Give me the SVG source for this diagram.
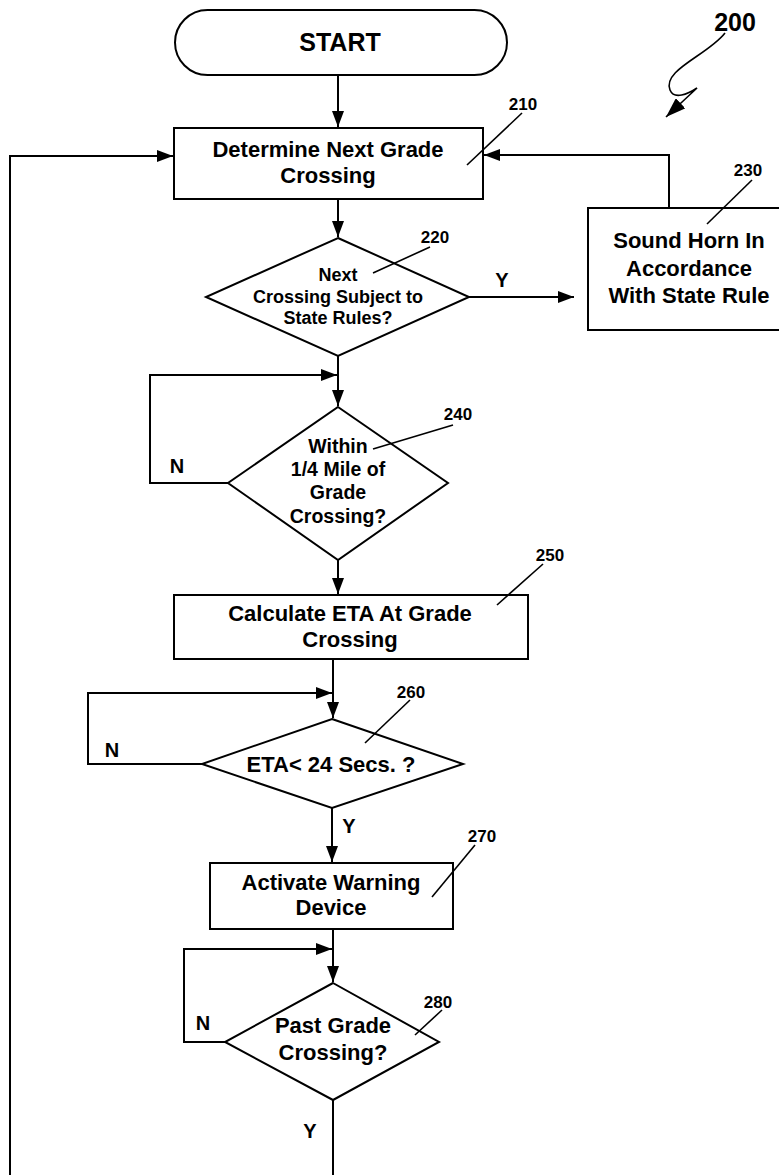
<svg xmlns="http://www.w3.org/2000/svg" width="779" height="1175" viewBox="0 0 779 1175">
<style>
.s{fill:#fff;stroke:#000;stroke-width:2}
.c{fill:none;stroke:#000;stroke-width:2}
.l{fill:none;stroke:#000;stroke-width:1.6}
text{font-family:"Liberation Sans",Arial,sans-serif;font-weight:bold;fill:#000;text-anchor:middle}
.t{font-size:22px}
.d{font-size:18px}
.w{font-size:19.5px}
.n{font-size:17px}
.yn{font-size:20px}
</style>
<defs>
<marker id="ah" markerWidth="16" markerHeight="12" refX="16" refY="6" orient="auto" markerUnits="userSpaceOnUse"><path d="M0,0 L16,6 L0,12 z" fill="#000"/></marker>
<marker id="ah2" markerWidth="20" markerHeight="14" refX="20" refY="7" orient="auto" markerUnits="userSpaceOnUse"><path d="M0,0 L20,7 L0,14 z" fill="#000"/></marker>
</defs>
<g id="connectors">
<path class="c" d="M338,76 V127" marker-end="url(#ah)"/>
<path class="c" d="M10,1175 V156 H173" marker-end="url(#ah)"/>
<path class="c" d="M669,208 V155 H484" marker-end="url(#ah)"/>
<path class="c" d="M338,199 V237" marker-end="url(#ah)"/>
<path class="c" d="M469,297 H574" marker-end="url(#ah)"/>
<path class="c" d="M338,356 V406" marker-end="url(#ah)"/>
<path class="c" d="M228,483 H150 V375 H337" marker-end="url(#ah)"/>
<path class="c" d="M338,560 V594" marker-end="url(#ah)"/>
<path class="c" d="M333,659 V718" marker-end="url(#ah)"/>
<path class="c" d="M202,764 H88 V693 H332" marker-end="url(#ah)"/>
<path class="c" d="M332,808 V862" marker-end="url(#ah)"/>
<path class="c" d="M333,929 V982" marker-end="url(#ah)"/>
<path class="c" d="M225,1042 H184 V949 H332" marker-end="url(#ah)"/>
<path class="c" d="M333,1100 V1175"/>
<text class="yn" x="502" y="287">Y</text>
<text class="yn" x="177" y="473">N</text>
<text class="yn" x="112" y="757">N</text>
<text class="yn" x="349" y="833">Y</text>
<text class="yn" x="203" y="1030">N</text>
<text class="yn" x="310" y="1138">Y</text>
</g>
<g id="fig-label">
<text x="735" y="31" style="font-size:25px">200</text>
<path class="l" d="M725,33 C708,55 662,70 670,90 C674,100 688,94 697,88 L666,117" marker-end="url(#ah2)"/>
</g>
<g id="start">
<rect class="s" x="175" y="10" width="332" height="65" rx="32.5"/>
<text x="340" y="51" style="font-size:25px">START</text>
</g>
<g id="n210">
<rect class="s" x="174" y="128" width="309" height="71"/>
<text class="t" x="328" y="157">Determine Next Grade</text>
<text class="t" x="328" y="183">Crossing</text>
<text class="n" x="523" y="110">210</text>
<path class="l" d="M522,113 L467,165"/>
</g>
<g id="n220">
<path class="s" d="M338,238 L469,297 L338,356 L206,297 Z"/>
<text class="d" x="338" y="281">Next</text>
<text class="d" x="338" y="303">Crossing Subject to</text>
<text class="d" x="338" y="324">State Rules?</text>
<text class="n" x="435" y="243">220</text>
<path class="l" d="M430,247 L373,273"/>
</g>
<g id="n230">
<rect class="s" x="588" y="208" width="196" height="122"/>
<text class="t" x="689" y="248">Sound Horn In</text>
<text class="t" x="689" y="276">Accordance</text>
<text class="t" x="689" y="303">With State Rule</text>
<text class="n" x="748" y="176">230</text>
<path class="l" d="M752,180 L707,224"/>
</g>
<g id="n240">
<path class="s" d="M338,407 L448,483 L338,560 L228,483 Z"/>
<text class="w" x="338" y="453">Within</text>
<text class="w" x="338" y="476">1/4 Mile of</text>
<text class="w" x="338" y="499">Grade</text>
<text class="w" x="338" y="523">Crossing?</text>
<text class="n" x="458" y="420">240</text>
<path class="l" d="M453,425 L373,449"/>
</g>
<g id="n250">
<rect class="s" x="174" y="595" width="354" height="64"/>
<text class="t" x="350" y="621">Calculate ETA At Grade</text>
<text class="t" x="350" y="647">Crossing</text>
<text class="n" x="550" y="561">250</text>
<path class="l" d="M543,564 L497,605"/>
</g>
<g id="n260">
<path class="s" d="M332,719 L463,764 L332,808 L202,764 Z"/>
<text class="t" x="331" y="772">ETA&lt; 24 Secs. ?</text>
<text class="n" x="411" y="698">260</text>
<path class="l" d="M410,700 L365,743"/>
</g>
<g id="n270">
<rect class="s" x="210" y="863" width="243" height="66"/>
<text class="t" x="331" y="890">Activate Warning</text>
<text class="t" x="331" y="915">Device</text>
<text class="n" x="482" y="842">270</text>
<path class="l" d="M475,845 L432,897"/>
</g>
<g id="n280">
<path class="s" d="M333,983 L439,1042 L333,1100 L225,1042 Z"/>
<text class="t" x="333" y="1033">Past Grade</text>
<text class="t" x="333" y="1060">Crossing?</text>
<text class="n" x="438" y="1008">280</text>
<path class="l" d="M442,1010 L415,1035"/>
</g>
</svg>
